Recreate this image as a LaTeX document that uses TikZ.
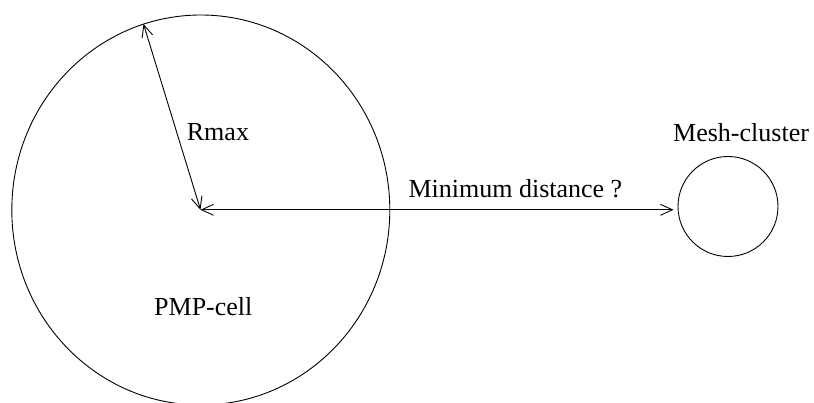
\documentclass[tikz,border=0pt]{standalone}
\usepackage{fontspec}
\newfontfamily\tmsfont{LiberationSerif-Regular.ttf}
\usetikzlibrary{arrows.meta,shapes.geometric}
\tikzset{
  lbl/.style={anchor=base west, inner sep=0pt, font=\tmsfont\fontsize{26}{30}\selectfont},
  ln/.style={line width=0.9pt, black},
  dim/.style={ln, {Straight Barb[length=12pt,width=11pt]}-{Straight Barb[length=12pt,width=11pt]}},
}
\begin{document}
\begin{tikzpicture}[x=1pt,y=-1pt]
\useasboundingbox (0,0) rectangle (814,403);
\node[ln, draw, ellipse, inner sep=0pt, minimum width=378pt, minimum height=390pt] (pmp) at (200.8,210) {};
\node[ln, draw, circle, inner sep=0pt, minimum size=100pt] (mc) at (728,206.5) {};
\coordinate (c) at (200.5,209.8);
\coordinate (rtop) at (143.5,24);
\coordinate (tip) at (673.5,209.8);
\draw[dim] (c) -- (rtop);
\draw[dim] (c) -- (tip);
\node[lbl] (rmax) at (186.7,140.7) {Rmax};
\node[lbl] (mesh) at (673,141.7) {Mesh-cluster};
\node[lbl] (mind) at (408.3,197.3) {Minimum distance ?};
\node[lbl] (cell) at (154,315.7) {PMP-cell};
\end{tikzpicture}
\end{document}
